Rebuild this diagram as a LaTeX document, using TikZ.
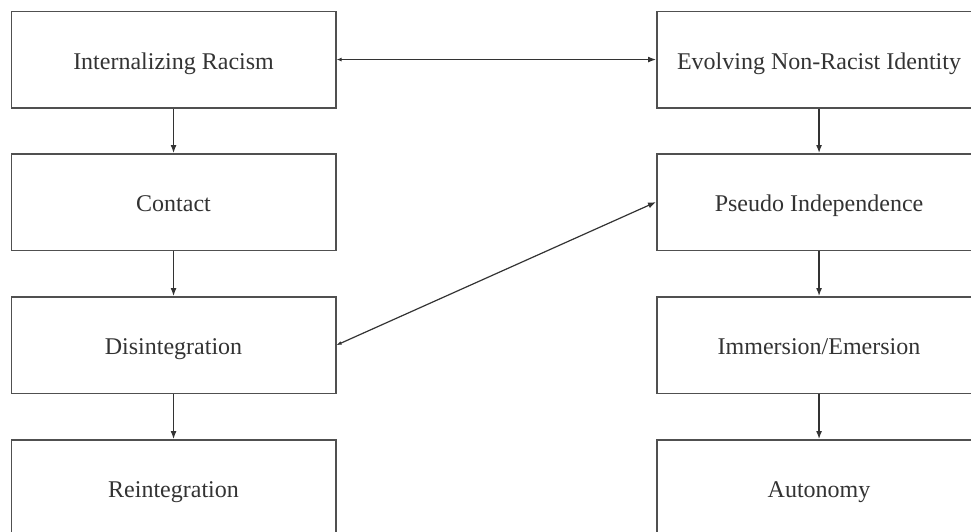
\documentclass[tikz,border=0pt]{standalone}
\usepackage{fontspec}
\setmainfont{Liberation Serif}
\usetikzlibrary{arrows.meta}
\definecolor{boxgray}{HTML}{505050}
\definecolor{textgray}{HTML}{333333}
\begin{document}
\begin{tikzpicture}[x=1pt,y=-1pt,
  stage/.style={draw=boxgray, line width=1.6pt, minimum width=324.5pt, minimum height=96.5pt, inner sep=0pt,
    text height=20pt, text depth=0.6pt,
    font=\fontsize{24}{28}\selectfont, text=textgray, anchor=north west},
  link/.style={draw=black!80, line width=1.2pt, -{Latex[length=8pt,width=6pt]}},
  twoway/.style={draw=black!80, line width=1.2pt, {Latex[length=5pt,width=4pt]}-{Latex[length=8pt,width=6pt]}},
]
\fill[white] (0,0) rectangle (971,531);
\useasboundingbox (0,0) rectangle (971,531);
\clip (0,0) rectangle (971,531);
\node[stage] (ir) at (10.5,10.5) {Internalizing Racism};
\node[stage] (co) at (10.5,153) {Contact};
\node[stage] (di) at (10.5,296) {Disintegration};
\node[stage] (re) at (10.5,439) {Reintegration};
\node[stage] (ev) at (656,10.5) {Evolving Non-Racist Identity};
\node[stage] (ps) at (656,153) {Pseudo Independence};
\node[stage] (im) at (656,296) {Immersion/Emersion};
\node[stage] (au) at (656,439) {Autonomy};
\draw[link] (ir.south) -- (co.north);
\draw[link] (co.south) -- (di.north);
\draw[link] (di.south) -- (re.north);
\draw[link] (ev.south) -- (ps.north);
\draw[link] (ps.south) -- (im.north);
\draw[link] (im.south) -- (au.north);
\draw[twoway] (ir.east) -- (ev.west);
\draw[twoway] (di.east) -- (ps.west);
\end{tikzpicture}
\end{document}
